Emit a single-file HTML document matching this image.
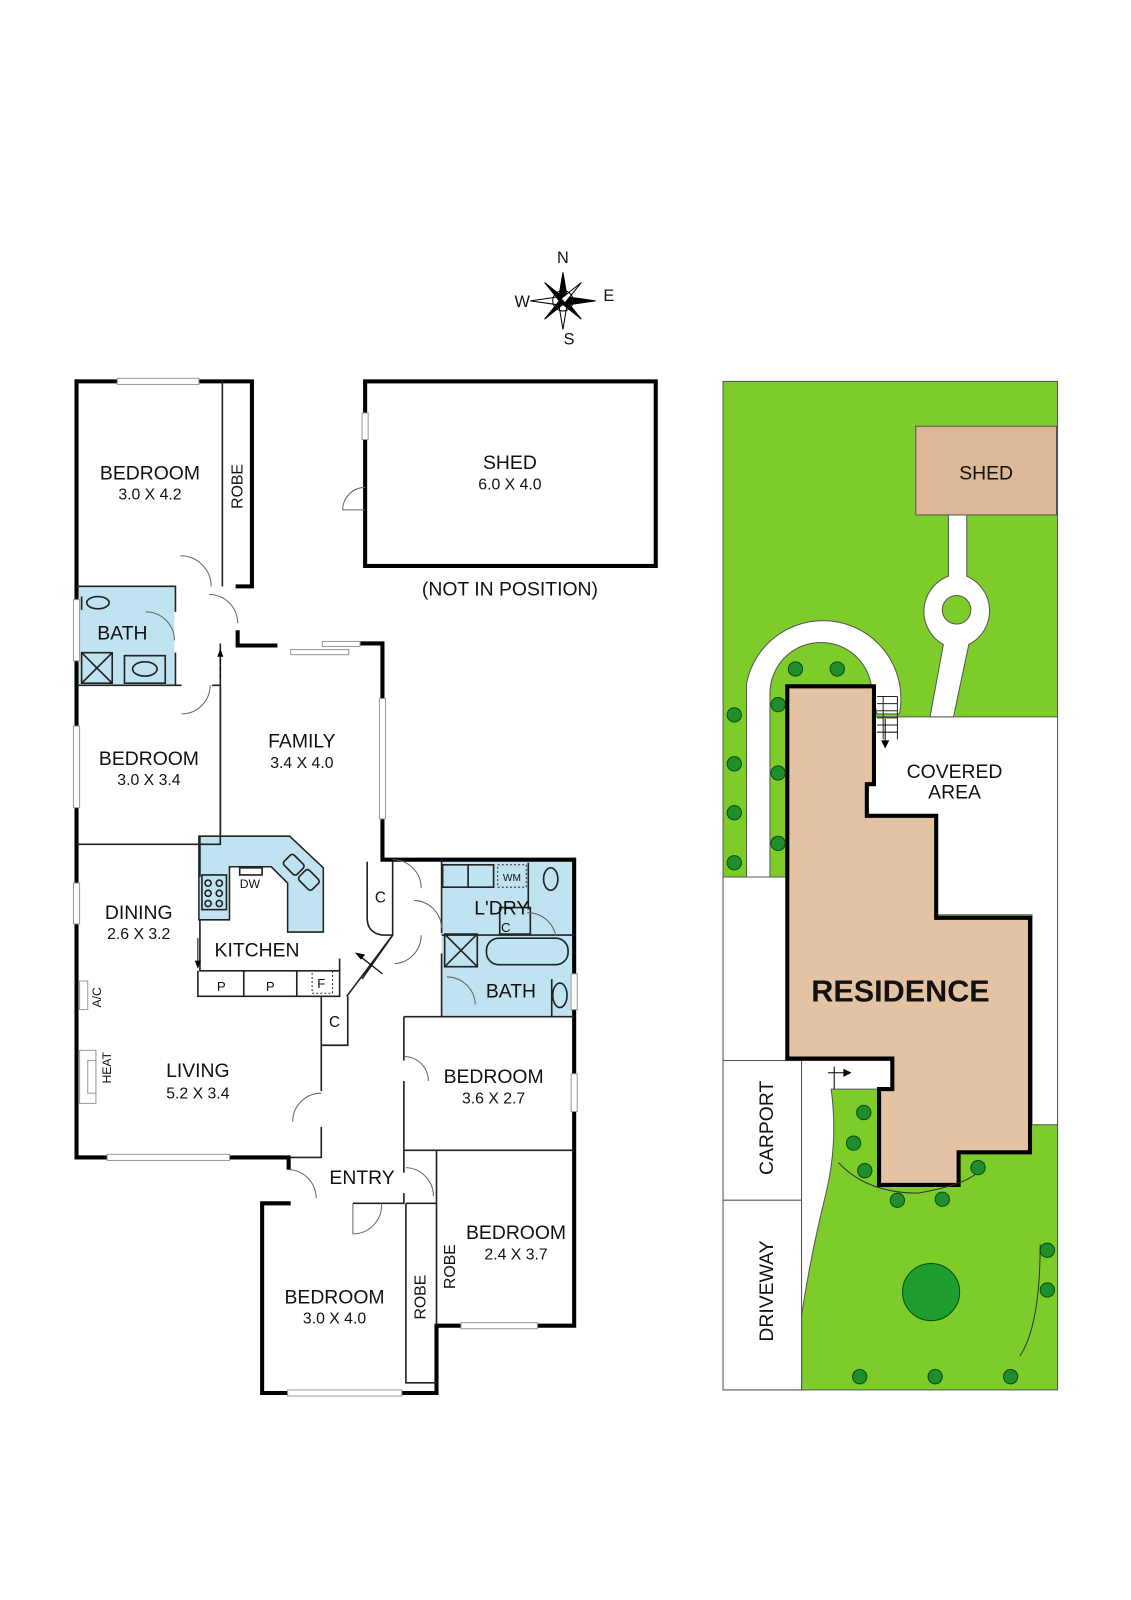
<!DOCTYPE html>
<html><head><meta charset="utf-8"><style>
html,body{margin:0;padding:0;background:#fff}
svg{display:block}
text{font-family:"Liberation Sans","DejaVu Sans",sans-serif;fill:#111}
.w{stroke:#000;stroke-width:4;fill:none;stroke-linecap:square}
.t{stroke:#222;stroke-width:1.6;fill:none}
.win{fill:#fff;stroke:#999;stroke-width:1}
.n{font-size:19px;text-anchor:middle}
.d{font-size:15.5px;text-anchor:middle}
.door{fill:none;stroke:#666;stroke-width:1}
.tree{fill:#1e8f2a;stroke:#0a4a10;stroke-width:1}
</style></head><body>
<svg width="1131" height="1600" viewBox="0 0 1109 1569" xmlns="http://www.w3.org/2000/svg">
<!-- compass -->
<g transform="translate(552,295)" stroke="#000" stroke-width="1" fill="#000">
<polygon points="0,-28 4,-4 0,0 -4,-4" fill="#000"/>
<polygon points="0,28 4,4 0,0 -4,4" fill="#fff"/>
<polygon points="-32,0 -4,-4 0,0 -4,4" fill="#fff"/>
<polygon points="32,0 4,-4 0,0 4,4" fill="#000"/>
<polygon points="-18,-18 -2,2 2,-2" fill="#000"/>
<polygon points="18,18 -2,2 2,-2" fill="#000"/>
<polygon points="18,-18 -2,-2 2,2" fill="#fff"/>
<polygon points="-18,18 -2,-2 2,2" fill="#000"/>
<circle r="10" fill="none"/>
</g>
<text x="552" y="258" font-size="16" text-anchor="middle">N</text>
<text x="512" y="301" font-size="16" text-anchor="middle">W</text>
<text x="597" y="295" font-size="16" text-anchor="middle">E</text>
<text x="558" y="338" font-size="16" text-anchor="middle">S</text>

<!-- SHED -->
<rect x="358" y="374" width="285" height="181" class="w"/>
<rect x="355" y="405" width="6" height="26" class="win"/>
<path d="M358 478 A22 22 0 0 0 336 500 L358 500" class="door"/>
<text x="500" y="460" class="n">SHED</text>
<text x="500" y="480" class="d">6.0 X 4.0</text>
<text x="500" y="584" class="n">(NOT IN POSITION)</text>

<!-- blue wet areas -->
<rect x="77" y="575" width="94" height="97" fill="#bfe3f0"/>
<rect x="433" y="843" width="130" height="154" fill="#bfe3f0"/>
<polygon points="195,820 284,820 317,851 317,914 282,914 282,866 266,850 225,850 225,902 195,902" fill="#bfe3f0" stroke="#222" stroke-width="1.5"/>

<!-- walls floor plan -->
<path class="w" d="M75 374 H247 V575 H233"/>
<path class="w" d="M75 374 V1135 H283 V1145"/>
<path class="t" d="M218 374 V575 M75 575 H172 V600 M172 640 V672 M75 672 H178 M208 672 H216 V828 H75"/>
<path class="w" d="M233 620 V633 H270 M350 631 H375 V843 H430 M432 843 H563 V1300 H428 V1366 H257 V1180 H283"/>
<path class="t" d="M216 631 V820 M196 820 V860 M196 902 V952 H333 V977 H194 V952 M239 952 V977 M291 952 V977 M333 977 V940"/>
<path class="t" d="M315 977 V1025 H341 V977 M315 1025 V1070 M315 1105 V1135 H283 M360 845 V900 Q360 915 375 917 H385 V845 M385 917 L355 960 M340 977 L385 917"/>
<path class="t" d="M396 997 H563 M396 997 V1040 M396 1060 V1128 H563 M428 1128 V1300 M396 1128 V1150 M396 1170 V1180 H346 M398 1180 V1356 H428 M433 843 V915 M433 917 H563 M433 935 V997 M433 997 H396"/>
<path class="t" d="M398 1180 H428"/>
<path class="t" d="M80 640 l30 30 M110 640 l-30 30 M80 640 h30 v30 h-30 z M122 643 h40 v27 h-40 z"/>
<ellipse cx="142" cy="656" rx="12" ry="7" class="t"/>
<ellipse cx="96" cy="591" rx="11" ry="6" class="t"/>
<path class="t" d="M80 585 v13"/>
<path class="t" d="M436 916 L468 948 M468 916 L436 948 M436 916 h32 v32 h-32 z M434 848 h50 v22 h-50 z M459 848 v22 M518 846 v46 M490 890 h30 v26 h-30 z"/>
<rect x="477" y="920" width="80" height="26" rx="12" class="t"/>
<rect x="488" y="848" width="28" height="22" fill="none" stroke="#333" stroke-dasharray="2,2"/>
<text x="502" y="864" font-size="10" text-anchor="middle">WM</text>
<ellipse cx="540" cy="862" rx="7" ry="11" class="t"/>
<ellipse cx="549" cy="976" rx="7" ry="12" class="t"/>
<path class="t" d="M541 960 V997"/>
<rect x="306" y="952" width="20" height="22" fill="none" stroke="#333" stroke-dasharray="2,2"/>
<rect x="235" y="851" width="22" height="7" class="t"/>
<g class="t"><rect x="198" y="858" width="24" height="34"/><circle cx="204" cy="866" r="3"/><circle cx="215" cy="866" r="3"/><circle cx="204" cy="876" r="3"/><circle cx="215" cy="876" r="3"/><circle cx="204" cy="886" r="3"/><circle cx="215" cy="886" r="3"/></g>
<g class="t" transform="translate(288,848) rotate(45)"><rect x="-9" y="-7" width="18" height="14" rx="3"/><rect x="12" y="-7" width="18" height="14" rx="3"/></g>
<!-- doors -->
<g class="door">
<path d="M177 545 A30 30 0 0 1 207 575"/><path d="M205 583 A28 28 0 0 1 233 611"/>
<path d="M143 600 A28 28 0 0 1 171 628"/><path d="M178 700 A28 28 0 0 0 206 672"/>
<path d="M385 843 A28 28 0 0 1 413 871"/><path d="M387 945 A28 28 0 0 0 413 917"/>
<path d="M406 883 A28 28 0 0 1 433 910"/><path d="M396 1036 A24 24 0 0 1 420 1060"/>
<path d="M315 1072 A28 28 0 0 0 287 1100"/><path d="M283 1147 A28 28 0 0 1 310 1175"/>
<path d="M398 1145 A28 28 0 0 1 425 1173"/><path d="M346 1180 V1210 A28 28 0 0 0 374 1180"/>
<path d="M517 895 A28 28 0 0 1 545 918"/><path d="M438 958 A28 28 0 0 1 466 985"/>
</g>
<path d="M216 665 V640" stroke="#000" stroke-width="1" stroke-dasharray="4,3"/><polygon points="216,636 213,644 219,644"/>
<path d="M194 920 V945" stroke="#000" stroke-width="1"/><polygon points="194,950 191,942 197,942"/>
<path d="M375 955 L352 937" stroke="#000" stroke-width="1.2"/><polygon points="348,934 358,936 354,941"/>
<!-- windows -->
<rect x="115" y="371" width="80" height="6" class="win"/>
<rect x="72" y="588" width="6" height="60" class="win"/>
<rect x="72" y="712" width="6" height="80" class="win"/>
<rect x="72" y="866" width="6" height="40" class="win"/>
<rect x="78" y="962" width="8" height="28" class="win"/>
<rect x="78" y="1030" width="16" height="52" class="win"/><rect x="86" y="1040" width="8" height="32" class="win"/>
<rect x="105" y="1132" width="120" height="6" class="win"/>
<rect x="285" y="637" width="57" height="5" class="win"/><rect x="316" y="629" width="37" height="5" class="win"/>
<rect x="372" y="685" width="6" height="118" class="win"/>
<rect x="560" y="955" width="6" height="35" class="win"/>
<rect x="560" y="1053" width="6" height="37" class="win"/>
<rect x="452" y="1297" width="75" height="6" class="win"/>
<rect x="282" y="1363" width="112" height="6" class="win"/>
<!-- labels -->
<text x="147" y="470" class="n">BEDROOM</text><text x="147" y="490" class="d">3.0 X 4.2</text>
<text x="238" y="477" class="d" transform="rotate(-90 238 477)">ROBE</text>
<text x="120" y="627" class="n">BATH</text>
<text x="146" y="750" class="n">BEDROOM</text><text x="146" y="770" class="d">3.0 X 3.4</text>
<text x="296" y="733" class="n">FAMILY</text><text x="296" y="753" class="d">3.4 X 4.0</text>
<text x="245" y="871" font-size="12" text-anchor="middle">DW</text>
<text x="136" y="901" class="n">DINING</text><text x="136" y="921" class="d">2.6 X 3.2</text>
<text x="252" y="938" class="n">KITCHEN</text>
<text x="217" y="972" font-size="13" text-anchor="middle">P</text>
<text x="265" y="972" font-size="13" text-anchor="middle">P</text>
<text x="315" y="969" font-size="13" text-anchor="middle">F</text>
<text x="373" y="885" font-size="15" text-anchor="middle">C</text>
<text x="328" y="1007" font-size="15" text-anchor="middle">C</text>
<text x="492" y="897" class="n">L'DRY</text>
<text x="496" y="914" font-size="13" text-anchor="middle">C</text>
<text x="501" y="978" class="n">BATH</text>
<text x="99" y="978" font-size="12" text-anchor="middle" transform="rotate(-90 99 978)">A/C</text>
<text x="109" y="1047" font-size="12" text-anchor="middle" transform="rotate(-90 109 1047)">HEAT</text>
<text x="194" y="1056" class="n">LIVING</text><text x="194" y="1077" class="d">5.2 X 3.4</text>
<text x="484" y="1062" class="n">BEDROOM</text><text x="484" y="1082" class="d">3.6 X 2.7</text>
<text x="355" y="1161" class="n">ENTRY</text>
<text x="506" y="1215" class="n">BEDROOM</text><text x="506" y="1235" class="d">2.4 X 3.7</text>
<text x="446" y="1242" class="d" transform="rotate(-90 446 1242)">ROBE</text>
<text x="417" y="1272" class="d" transform="rotate(-90 417 1272)">ROBE</text>
<text x="328" y="1278" class="n">BEDROOM</text><text x="328" y="1298" class="d">3.0 X 4.0</text>

<!-- SITE PLAN -->
<rect x="709" y="374" width="328" height="989" fill="#7dcc2a" stroke="#555" stroke-width="1"/>
<g fill="#fff" stroke="#555" stroke-width="1">
<path d="M709 860 H772 V1040 H709 Z"/>
<path d="M732 670 V860 H755 V680 A50 50 0 0 1 855 680 L860 700 L882 700 A75 75 0 0 0 732 670 Z"/>
<path d="M850 703 H1037 V1103 H1012 V897 H918 V800 H850 Z"/>
<rect x="709" y="1040" width="77" height="137"/>
<path d="M709 1177 H786 V1363 H709 Z"/>
<path d="M786 1040 H875 V1068 H815 Q822 1120 810 1170 Q795 1230 786 1290 V1363 H786 Z"/>
<path d="M930 505 H948 V565 A37 37 0 0 1 950 632 L935 703 H912 L925 632 A37 37 0 0 1 930 565 Z"/>
</g>
<circle cx="938" cy="598" r="14" fill="#7dcc2a" stroke="#555" stroke-width="1"/>
<path d="M1037 1103 V1363" stroke="#555"/>
<rect x="898" y="418" width="138" height="87" fill="#dcb896" stroke="#555" stroke-width="1"/>
<text x="967" y="470" class="n">SHED</text>
<polygon points="772,673 857,673 857,769 850,769 850,800 918,800 918,900 1010,900 1010,1130 940,1130 940,1162 862,1162 862,1068 875,1068 875,1038 772,1038" fill="#e3c3a3" stroke="#000" stroke-width="4"/>
<text x="883" y="982" font-size="30" font-weight="bold" text-anchor="middle">RESIDENCE</text>
<text x="936" y="763" class="n">COVERED</text><text x="936" y="783" class="n">AREA</text>
<path d="M860 683 H880 M860 690 H880 M860 697 H880 M860 704 H880 M860 711 H880 M860 718 H880 M866 683 V725 M880 683 V725" stroke="#222" stroke-width="1"/>
<path d="M868 705 V728" stroke="#000"/><polygon points="868,734 864,726 872,726"/>
<path d="M812 1052 H830 M818 1046 V1068" stroke="#000"/><polygon points="835,1052 827,1048 827,1056"/>
<text x="758" y="1106" font-size="19" text-anchor="middle" transform="rotate(-90 758 1106)">CARPORT</text>
<text x="758" y="1266" font-size="19" text-anchor="middle" transform="rotate(-90 758 1266)">DRIVEWAY</text>
<path d="M822 1140 Q850 1170 900 1170 Q960 1160 965 1140 M1020 1220 Q1020 1300 1000 1330" fill="none" stroke="#333" stroke-width="1"/>
<g class="tree">
<circle cx="780" cy="656" r="7"/><circle cx="821" cy="656" r="7"/>
<circle cx="720" cy="701" r="7"/><circle cx="720" cy="749" r="7"/><circle cx="720" cy="797" r="7"/><circle cx="720" cy="846" r="7"/>
<circle cx="763" cy="691" r="7"/><circle cx="763" cy="758" r="7"/><circle cx="763" cy="827" r="7"/>
<circle cx="847" cy="1091" r="7"/><circle cx="837" cy="1121" r="7"/><circle cx="848" cy="1148" r="7"/>
<circle cx="880" cy="1177" r="7"/><circle cx="924" cy="1176" r="7"/><circle cx="959" cy="1145" r="7"/>
<circle cx="1027" cy="1226" r="7"/><circle cx="1027" cy="1265" r="7"/>
<circle cx="843" cy="1350" r="7"/><circle cx="917" cy="1350" r="7"/><circle cx="991" cy="1350" r="7"/>
<circle cx="913" cy="1267" r="28" fill="#1e9e2e"/>
</g>
</svg>
</body></html>
